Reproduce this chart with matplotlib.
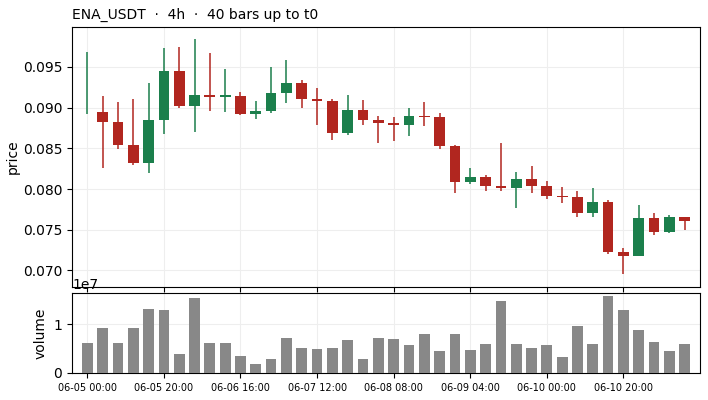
import matplotlib
matplotlib.use("Agg")
import matplotlib.pyplot as plt
import numpy as np

# 4h candles, ENA_USDT
opens = [0.0920, 0.08947, 0.08824, 0.08541, 0.08324, 0.08852, 0.09451, 0.09021, 0.09156, 0.09134,
         0.09144, 0.08926, 0.08963, 0.09184, 0.09303, 0.09107, 0.09082, 0.08693, 0.08972, 0.08849,
         0.08812, 0.08791, 0.08901, 0.08886, 0.08529, 0.08090, 0.08148, 0.08037, 0.08013, 0.08124,
         0.08037, 0.07920, 0.07902, 0.07706, 0.07845, 0.07226, 0.07181, 0.07644, 0.07476, 0.07657]
closes = [0.0920, 0.08828, 0.08545, 0.08324, 0.08849, 0.09451, 0.09021, 0.09156, 0.09133, 0.09150,
          0.08926, 0.08959, 0.09180, 0.09303, 0.09110, 0.09082, 0.08693, 0.08972, 0.08852, 0.08815,
          0.08791, 0.08898, 0.08884, 0.08533, 0.08090, 0.08148, 0.08041, 0.08013, 0.08124, 0.08041,
          0.07915, 0.07902, 0.07706, 0.07845, 0.07226, 0.07181, 0.07644, 0.07476, 0.07657, 0.07611]
highs = [0.09684, 0.09140, 0.09070, 0.09103, 0.09300, 0.09730, 0.09746, 0.09840, 0.09668, 0.09472,
         0.09193, 0.09078, 0.09500, 0.09586, 0.09337, 0.09246, 0.09103, 0.09152, 0.09094, 0.08894,
         0.08882, 0.08992, 0.09066, 0.08931, 0.08538, 0.08259, 0.08169, 0.08570, 0.08209, 0.08283,
         0.08099, 0.08025, 0.07976, 0.08009, 0.07865, 0.07276, 0.07801, 0.07702, 0.07681, 0.07657]
lows = [0.08919, 0.08255, 0.08489, 0.08292, 0.08194, 0.08673, 0.09000, 0.08705, 0.08955, 0.08943,
        0.08906, 0.08857, 0.08930, 0.09054, 0.09000, 0.08791, 0.08599, 0.08660, 0.08791, 0.08562,
        0.08587, 0.08648, 0.08771, 0.08489, 0.07948, 0.08058, 0.07979, 0.07976, 0.07771, 0.07955,
        0.07880, 0.07832, 0.07660, 0.07660, 0.07202, 0.06952, 0.07180, 0.07432, 0.07463, 0.07492]
volumes = [0.619, 0.925, 0.619, 0.925, 1.313, 1.293, 0.395, 1.537, 0.619, 0.619,
           0.354, 0.190, 0.293, 0.721, 0.517, 0.497, 0.517, 0.680, 0.293, 0.721,
           0.700, 0.578, 0.803, 0.456, 0.803, 0.476, 0.599, 1.476, 0.599, 0.517,
           0.578, 0.333, 0.966, 0.599, 1.578, 1.293, 0.884, 0.639, 0.456, 0.599]
volumes = [v * 1e7 for v in volumes]

tick_pos = [0, 5, 10, 15, 20, 25, 30, 35]
tick_labels = ['06-05 00:00', '06-05 20:00', '06-06 16:00', '06-07 12:00',
               '06-08 08:00', '06-09 04:00', '06-10 00:00', '06-10 20:00']

GREEN = '#1b7f4c'
RED = '#b1261f'

fig = plt.figure(figsize=(7.08, 4.0), dpi=100)
ax = fig.add_axes([0.1017, 0.2825, 0.887, 0.65])
axv = fig.add_axes([0.1017, 0.0675, 0.887, 0.2], sharex=ax)

x = np.arange(len(opens))
o = np.array(opens)
c = np.array(closes)
colors = [GREEN if cc >= oo else RED for oo, cc in zip(o, c)]

ax.vlines(x, lows, highs, colors=colors, linewidth=1.1, zorder=2)
ax.bar(x, np.abs(c - o), bottom=np.minimum(o, c), width=0.7, color=colors,
       linewidth=0, zorder=3)

ax.set_ylim(0.06797, 0.0999)
ax.set_xlim(-1, 40)
ax.set_yticks([0.070, 0.075, 0.080, 0.085, 0.090, 0.095])
ax.set_ylabel('price', labelpad=2)
ax.grid(True, color='#eeeeee', linewidth=0.8)
ax.set_axisbelow(True)
ax.tick_params(labelbottom=False)
ax.set_title('ENA_USDT  ·  4h  ·  40 bars up to t0', loc='left', fontsize=10)

axv.bar(x, volumes, width=0.7, color='#888888', zorder=3)
axv.set_ylim(0, max(volumes) * 1.035)
axv.set_ylabel('volume')
axv.grid(True, color='#eeeeee', linewidth=0.8)
axv.set_axisbelow(True)
axv.set_xticks(tick_pos)
axv.set_xticklabels(tick_labels, fontsize=7)

fig.savefig('out.png', dpi=100)
